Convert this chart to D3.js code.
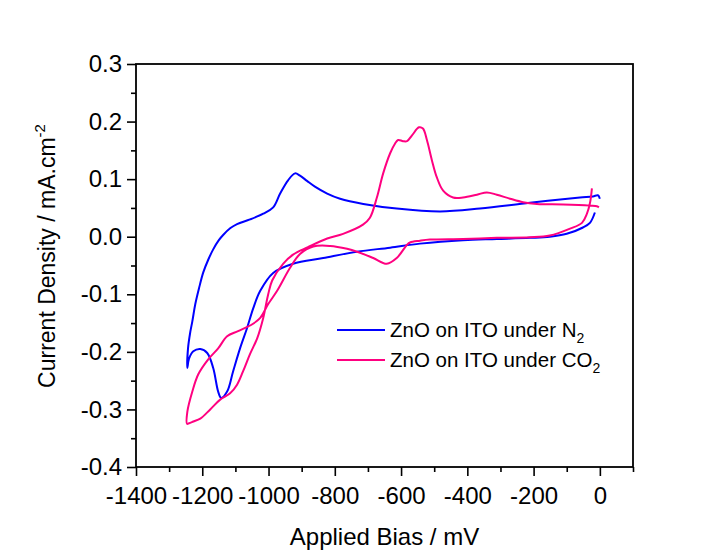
<!DOCTYPE html>
<html>
<head>
<meta charset="utf-8">
<script src="https://cdn.jsdelivr.net/npm/d3@7"></script>
<style>
  body { margin: 0; background: #fff; }
  text { font-family: "Liberation Sans", Arial, sans-serif; fill: #000; }
</style>
</head>
<body>
<svg id="cv" width="721" height="552"></svg>
<script>
// ZnO on ITO under N2 (one cycle: cathodic sweep then anodic return)
var n2Bias = [-15, -30, -51, -100, -151, -211, -311, -413, -543, -633, -733, -835, -926, -986, -1025, -1046, -1065, -1086, -1107, -1125, -1143, -1152, -1167, -1185, -1206, -1227, -1240, -1245,
  -1243, -1236, -1230, -1221, -1210, -1197, -1182, -1167, -1150, -1137, -1115, -1095, -1056, -1016, -986, -965, -941, -920, -905, -884, -860, -823, -784, -714, -613, -482, -362, -211, -60, -21, -6, 0];
var n2Current = [0.042, 0.024, 0.016, 0.005, 0.0, -0.002, -0.004, -0.006, -0.012, -0.019, -0.026, -0.037, -0.047, -0.063, -0.094, -0.124, -0.159, -0.194, -0.234, -0.269, -0.28, -0.269, -0.228, -0.202, -0.195, -0.199, -0.212, -0.228,
  -0.194, -0.165, -0.147, -0.117, -0.09, -0.062, -0.04, -0.022, -0.006, 0.003, 0.015, 0.022, 0.03, 0.04, 0.051, 0.075, 0.098, 0.11, 0.106, 0.097, 0.087, 0.075, 0.066, 0.057, 0.049, 0.044, 0.049, 0.059, 0.068, 0.07, 0.072, 0.066];

// ZnO on ITO under CO2
var co2Bias = [-24, -30, -39, -54, -90, -151, -211, -311, -413, -513, -543, -573, -582, -613, -643, -684, -733, -763, -814, -865, -905, -935, -974, -1001, -1025, -1049, -1092, -1125, -1152, -1182, -1212, -1230, -1245, -1246,
  -1240, -1227, -1206, -1176, -1146, -1116, -1095, -1077, -1056, -1034, -1016, -1001, -989, -956, -926, -881, -823, -775, -715, -694, -673, -654, -633, -618, -609, -594, -582, -567, -546, -534, -522, -507, -492, -473, -443, -413, -371, -341, -311, -271, -232, -190, -111, -30, -9, -3];
var co2Current = [0.084, 0.058, 0.04, 0.024, 0.014, 0.002, -0.001, -0.002, -0.004, -0.005, -0.007, -0.01, -0.014, -0.037, -0.047, -0.037, -0.026, -0.021, -0.016, -0.017, -0.03, -0.054, -0.094, -0.117, -0.141, -0.152, -0.164, -0.173, -0.194, -0.213, -0.239, -0.269, -0.304, -0.325,
  -0.324, -0.321, -0.316, -0.3, -0.283, -0.272, -0.257, -0.234, -0.204, -0.176, -0.141, -0.1, -0.076, -0.047, -0.031, -0.018, -0.003, 0.005, 0.021, 0.033, 0.068, 0.11, 0.145, 0.162, 0.168, 0.166, 0.166, 0.176, 0.19, 0.188, 0.168, 0.133, 0.103, 0.08, 0.068, 0.068, 0.073, 0.077, 0.073, 0.066, 0.06, 0.057, 0.056, 0.054, 0.053, 0.051];

var xTicks = [-1400, -1200, -1000, -800, -600, -400, -200, 0];
var yTicks = [0.3, 0.2, 0.1, 0.0, -0.1, -0.2, -0.3, -0.4];
var legendNames = ["ZnO on ITO under N", "ZnO on ITO under CO"];
var legendSubs = ["2", "2"];
var colors = ["#0000ff", "#ff0080"];

var svg = d3.select("svg#cv");
var mLeft = 136, mRight = 633, mTop = 64, mBottom = 467;

var x = d3.scaleLinear().domain([-1400, 100]).range([mLeft, mRight]);
var y = d3.scaleLinear().domain([-0.4, 0.3]).range([mBottom, mTop]);

var series = [
  n2Bias.map(function(d, i) { return [d, n2Current[i]]; }),
  co2Bias.map(function(d, i) { return [d, co2Current[i]]; })
];

// minor ticks
svg.append("g")
    .attr("transform", "translate(0," + mBottom + ")")
    .call(d3.axisBottom(x).tickValues(d3.range(-1300, 101, 200)).tickSize(5).tickFormat(""));
svg.append("g")
    .attr("transform", "translate(" + mLeft + ",0)")
    .call(d3.axisLeft(y).tickValues([0.25, 0.15, 0.05, -0.05, -0.15, -0.25, -0.35]).tickSize(5).tickFormat(""));

svg.append("g")
    .attr("transform", "translate(0," + mBottom + ")")
    .call(d3.axisBottom(x).tickValues(xTicks).tickSize(9).tickPadding(11).tickFormat(function(d) { return String(d); }));
svg.append("g")
    .attr("transform", "translate(" + mLeft + ",0)")
    .call(d3.axisLeft(y).tickValues(yTicks).tickSize(9).tickPadding(5).tickFormat(function(d) { return d.toFixed(1); }));

svg.selectAll(".tick text").attr("fill", "#000").style("font-size", "24px").style("font-family", "Liberation Sans, Arial, sans-serif");
svg.selectAll(".tick line").attr("stroke-width", 1.6);
svg.selectAll(".domain").remove();

// frame
svg.append("rect")
    .attr("x", mLeft).attr("y", mTop)
    .attr("width", mRight - mLeft).attr("height", mBottom - mTop)
    .attr("fill", "none").attr("stroke", "#000").attr("stroke-width", 1.8);

var line = d3.line()
    .x(function(d) { return x(d[0]); })
    .y(function(d) { return y(d[1]); })
    .curve(d3.curveCatmullRom.alpha(0.5));

svg.selectAll(".cv")
    .data(series)
  .enter().append("path")
    .attr("class", "cv")
    .attr("d", line)
    .attr("fill", "none")
    .attr("stroke", function(d, i) { return colors[i]; })
    .attr("stroke-width", 2);

// legend
var leg = svg.append("g").attr("transform", "translate(337,330)");
legendNames.forEach(function(name, i) {
  var row = leg.append("g").attr("transform", "translate(0," + (i * 30) + ")");
  row.append("line").attr("x1", 0).attr("x2", 48).attr("y1", 0).attr("y2", 0)
      .attr("stroke", colors[i]).attr("stroke-width", 2);
  var t = row.append("text").attr("x", 53).attr("y", 7).style("font-size", "20.5px").text(name);
  t.append("tspan").attr("dy", 6).style("font-size", "14px").text(legendSubs[i]);
});

// axis titles
svg.append("text")
    .attr("x", (mLeft + mRight) / 2).attr("y", 545)
    .attr("text-anchor", "middle")
    .style("font-size", "24px")
    .text("Applied Bias / mV");

var yt = svg.append("text")
    .attr("transform", "translate(55,256) rotate(-90)")
    .attr("text-anchor", "middle")
    .style("font-size", "23px")
    .text("Current Density / mA.cm");
yt.append("tspan").attr("dy", -10).style("font-size", "15px").text("-2");
</script>
</body>
</html>
